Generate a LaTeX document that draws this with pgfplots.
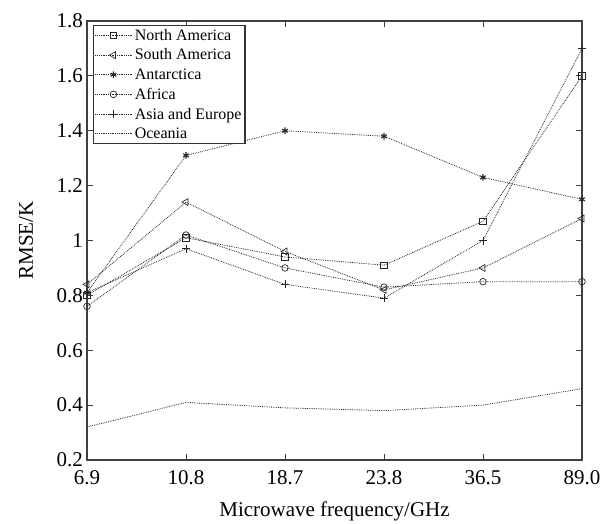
\documentclass[border=0pt]{standalone}
\usepackage{fontspec}
\setmainfont{Liberation Serif}
\usepackage{pgfplots}
\pgfplotsset{compat=1.18}
\begin{document}
\begin{tikzpicture}
\begin{axis}[
  width=495pt, height=439pt, scale only axis,
  xmin=0, xmax=5, ymin=0.2, ymax=1.8,
  xtick={0,1,2,3,4,5},
  xticklabels={6.9,10.8,18.7,23.8,36.5,89.0},
  ytick={0.2,0.4,...,1.8},
  tick align=inside, major tick length=6pt,
  /pgf/number format/assume math mode=true,
  ticklabel style={font=\fontsize{21}{22}\selectfont},
  xticklabel style={inner sep=1pt, yshift=-9pt},
  yticklabel style={inner sep=1pt, xshift=-3pt},
  label style={font=\fontsize{21}{22}\selectfont},
  xlabel={Microwave frequency/GHz},
  ylabel={RMSE/K},
  xlabel style={at={(axis description cs:0.5,0)}, anchor=base, yshift=-56pt},
  ylabel style={at={(axis description cs:-0.1232,0.5)}, anchor=center},
  axis line style={line width=1.2pt, black!75},
  every tick/.style={black!75, line width=1pt},
  every axis plot/.append style={black!85, densely dotted, line width=0.8pt, mark size=3.3pt, mark options={solid, line width=0.7pt}},
  legend style={at={(0.012,0.991)}, anchor=north west, font=\fontsize{16}{17}\selectfont,
    draw=black!80, line width=1.2pt, inner sep=1.5pt, row sep=3.2pt, cells={anchor=west}},
  legend cell align=left,
  legend image code/.code={\draw[mark repeat=2, mark phase=2] plot coordinates {(0pt,0pt) (18pt,0pt) (37pt,0pt)};},
]
\addplot[mark=square] coordinates {(0,0.80) (1,1.01) (2,0.94) (3,0.91) (4,1.07) (5,1.60)};
\addlegendentry{North America}
\addplot[mark=triangle, mark size=4pt, mark options={solid, line width=0.7pt, rotate=90}] coordinates {(0,0.84) (1,1.14) (2,0.96) (3,0.82) (4,0.90) (5,1.08)};
\addlegendentry{South America}
\addplot[mark=asterisk, mark options={solid, line width=1.1pt}] coordinates {(0,0.81) (1,1.31) (2,1.40) (3,1.38) (4,1.23) (5,1.15)};
\addlegendentry{Antarctica}
\addplot[mark=o] coordinates {(0,0.76) (1,1.02) (2,0.90) (3,0.83) (4,0.85) (5,0.85)};
\addlegendentry{Africa}
\addplot[mark=+, mark size=4pt] coordinates {(0,0.81) (1,0.97) (2,0.84) (3,0.79) (4,1.00) (5,1.70)};
\addlegendentry{Asia and Europe}
\addplot[no marks] coordinates {(0,0.32) (1,0.41) (2,0.39) (3,0.38) (4,0.40) (5,0.46)};
\addlegendentry{Oceania}
\end{axis}
\path (current axis.south west) ++(-87pt,-61pt) rectangle ([shift={(33pt,21pt)}]current axis.north east);
\end{tikzpicture}
\end{document}
